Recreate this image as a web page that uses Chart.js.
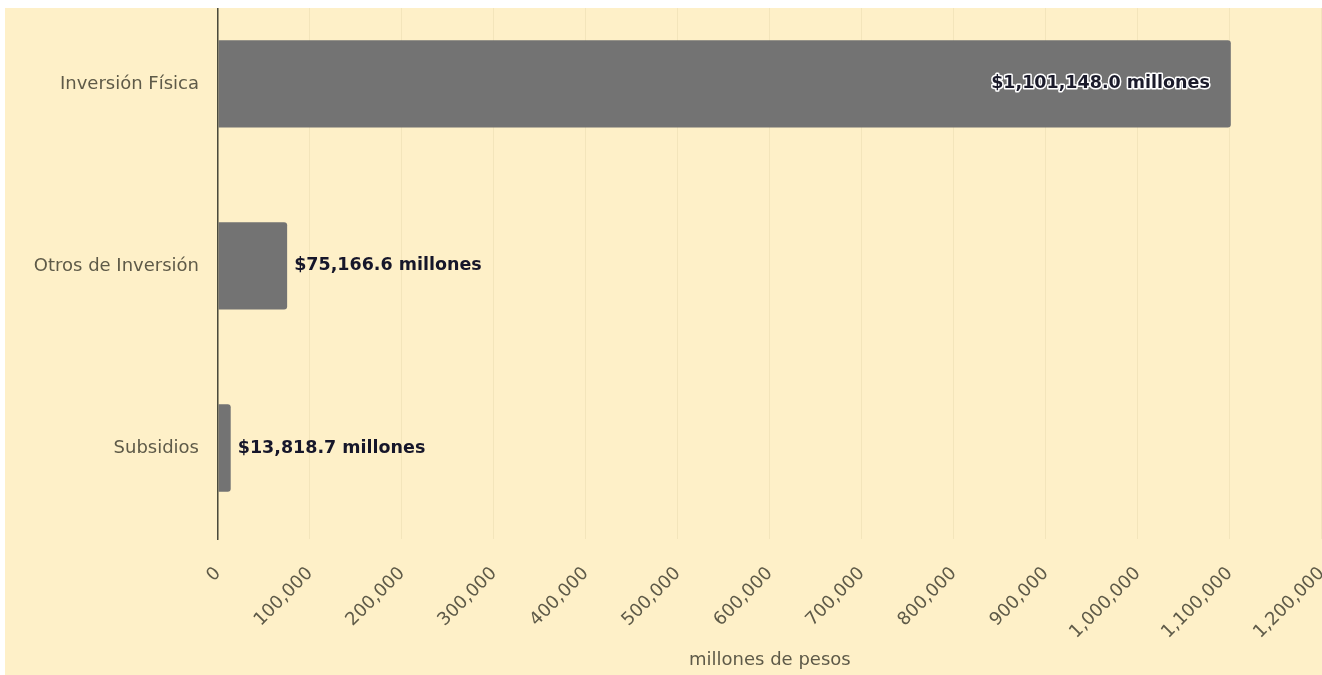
<!DOCTYPE html>
<html>
<head>
<meta charset="utf-8">
<script src="https://cdn.jsdelivr.net/npm/chart.js@4"></script>
<style>
  html, body { margin: 0; padding: 0; background: #ffffff; width: 1322px; height: 675px; overflow: hidden; }
  #fondo { position: absolute; left: 5px; top: 8px; width: 1317px; height: 667px; background: #fef0c8; overflow: hidden; }
  #caja { position: absolute; left: 0; top: -37px; width: 1356px; height: 704px; }
</style>
</head>
<body>
<div id="fondo"><div id="caja"><canvas id="grafica"></canvas></div></div>
<script>
'use strict'

const categorias = ['Inversión Física', 'Otros de Inversión', 'Subsidios']
const montos = [1101148.0, 75166.6, 13818.7]
const tituloEjeX = 'millones de pesos'

const fuente = "'DejaVu Sans', 'Noto Sans', sans-serif"

// etiquetas de valor al final de cada barra
const etiquetasBarras = {
    id: 'etiquetasBarras',
    afterDatasetsDraw(chart) {
        const ctx = chart.ctx
        const meta = chart.getDatasetMeta(0)
        const maximo = Math.max(...montos)
        ctx.save()
        ctx.font = "bold 17.5px " + fuente
        ctx.textBaseline = 'middle'
        meta.data.forEach((barra, i) => {
            const texto = '$' + montos[i].toLocaleString('en-US', { minimumFractionDigits: 1, maximumFractionDigits: 1 }) + ' millones'
            if (montos[i] > maximo / 2) {
                ctx.textAlign = 'right'
                ctx.lineJoin = 'round'
                ctx.lineWidth = 3
                ctx.strokeStyle = '#ffffff'
                ctx.strokeText(texto, barra.x - 21, barra.y)
                ctx.fillStyle = '#1b1b2b'
                ctx.fillText(texto, barra.x - 21, barra.y)
            } else {
                ctx.textAlign = 'left'
                ctx.fillStyle = '#16162a'
                ctx.fillText(texto, barra.x + 7, barra.y)
            }
        })
        ctx.restore()
    }
}

const config = {
    type: 'bar',
    data: {
        labels: categorias,
        datasets: [{
            data: montos,
            backgroundColor: '#737373',
            borderRadius: 3,
            borderSkipped: 'start',
            categoryPercentage: 0.8,
            barPercentage: 0.6
        }]
    },
    options: {
        indexAxis: 'y',
        responsive: true,
        maintainAspectRatio: false,
        animation: false,
        locale: 'en-US',
        layout: { padding: 0 },
        plugins: {
            legend: { display: false },
            tooltip: { enabled: false }
        },
        scales: {
            x: {
                min: 0,
                max: 1200000,
                ticks: {
                    stepSize: 100000,
                    maxRotation: 45,
                    minRotation: 45,
                    padding: 24,
                    color: '#5e5a48',
                    font: { family: fuente, size: 18 }
                },
                grid: { color: 'rgba(120, 100, 40, 0.08)', drawTicks: false },
                border: { display: false },
                title: {
                    display: true,
                    text: tituloEjeX,
                    color: '#5e5a48',
                    font: { family: fuente, size: 18 }
                },
                afterFit: (scale) => { scale.height = 136 }
            },
            y: {
                ticks: {
                    color: '#5e5a48',
                    padding: 11,
                    font: { family: fuente, size: 18 }
                },
                grid: { display: false },
                border: { display: true, color: '#4a4a3c', width: 1.5 },
                afterFit: (scale) => { scale.width = 213 }
            }
        }
    },
    plugins: [etiquetasBarras]
}

new Chart(document.getElementById('grafica').getContext('2d'), config)
</script>
</body>
</html>
